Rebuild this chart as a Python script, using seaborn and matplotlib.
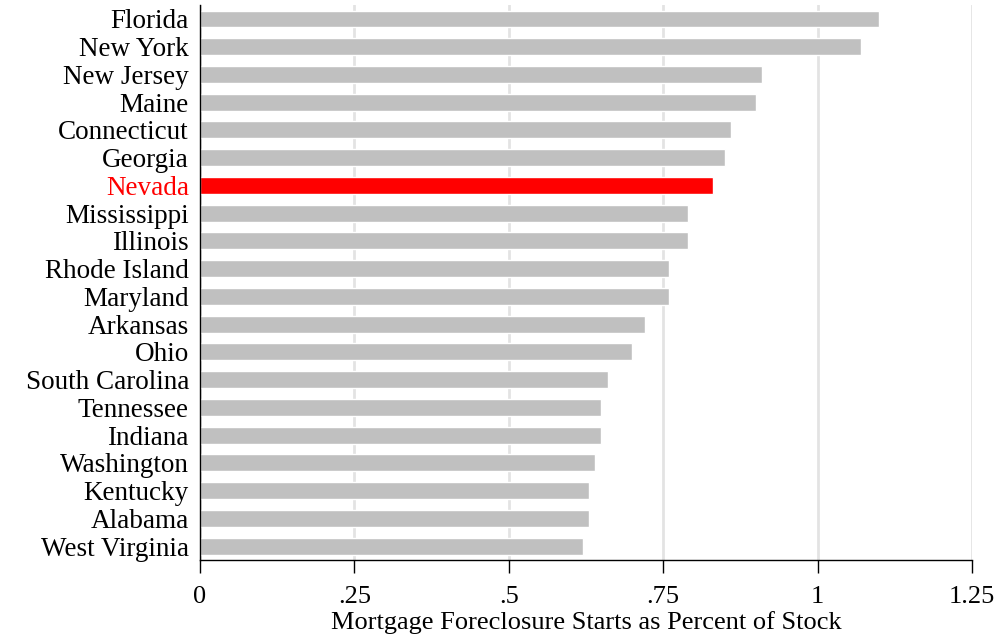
import matplotlib
matplotlib.use("Agg")
import matplotlib.pyplot as plt
import seaborn as sns
import pandas as pd

states = ["Florida", "New York", "New Jersey", "Maine", "Connecticut", "Georgia",
          "Nevada", "Mississippi", "Illinois", "Rhode Island", "Maryland", "Arkansas",
          "Ohio", "South Carolina", "Tennessee", "Indiana", "Washington", "Kentucky",
          "Alabama", "West Virginia"]
values = [1.10, 1.07, 0.91, 0.90, 0.86, 0.85, 0.83, 0.79, 0.79, 0.76, 0.76, 0.72,
          0.70, 0.66, 0.65, 0.65, 0.64, 0.63, 0.63, 0.62]
highlight = "Nevada"
x_ticks = [0, 0.25, 0.5, 0.75, 1, 1.25]
x_tick_labels = ["0", ".25", ".5", ".75", "1", "1.25"]
x_label = "Mortgage Foreclosure Starts as Percent of Stock"

df = pd.DataFrame({"state": states, "value": values})
palette = {s: ("#ff0000" if s == highlight else "#c0c0c0") for s in states}

sns.set_theme(style="white")
plt.rcParams["font.family"] = ["Liberation Serif", "DejaVu Serif"]
plt.rcParams["text.color"] = "black"
plt.rcParams["xtick.color"] = "black"
plt.rcParams["ytick.color"] = "black"
plt.rcParams["axes.labelcolor"] = "black"

fig = plt.figure(figsize=(10.01, 6.37), dpi=100)
ax = fig.add_axes([0.1998, 0.121, 0.7712, 0.871])

sns.barplot(data=df, y="state", x="value", hue="state", palette=palette,
            orient="h", width=0.61, legend=False, ax=ax, saturation=1, zorder=2)

ax.set_xlim(0, 1.25)
ax.set_ylim(len(states) - 0.5, -0.5)
ax.set_xticks(x_ticks)
ax.set_xticklabels(x_tick_labels, fontsize=19)
ax.set_xlabel(x_label, fontsize=19, labelpad=2)
ax.set_ylabel("")
ax.tick_params(axis="y", labelsize=19.5, length=0, pad=8)
ax.tick_params(axis="x", direction="out", length=9, width=1, pad=10, bottom=True)
for lbl in ax.get_yticklabels():
    if lbl.get_text() == highlight:
        lbl.set_color("#ff0000")
ax.xaxis.grid(True, color="#e3e3e3", linewidth=2, zorder=0)
ax.set_axisbelow(True)
for side in ["top", "right"]:
    ax.spines[side].set_visible(False)
for side in ["left", "bottom"]:
    ax.spines[side].set_color("black")
    ax.spines[side].set_linewidth(1)
    ax.spines[side].set_zorder(5)

fig.savefig("out.png", dpi=100)
